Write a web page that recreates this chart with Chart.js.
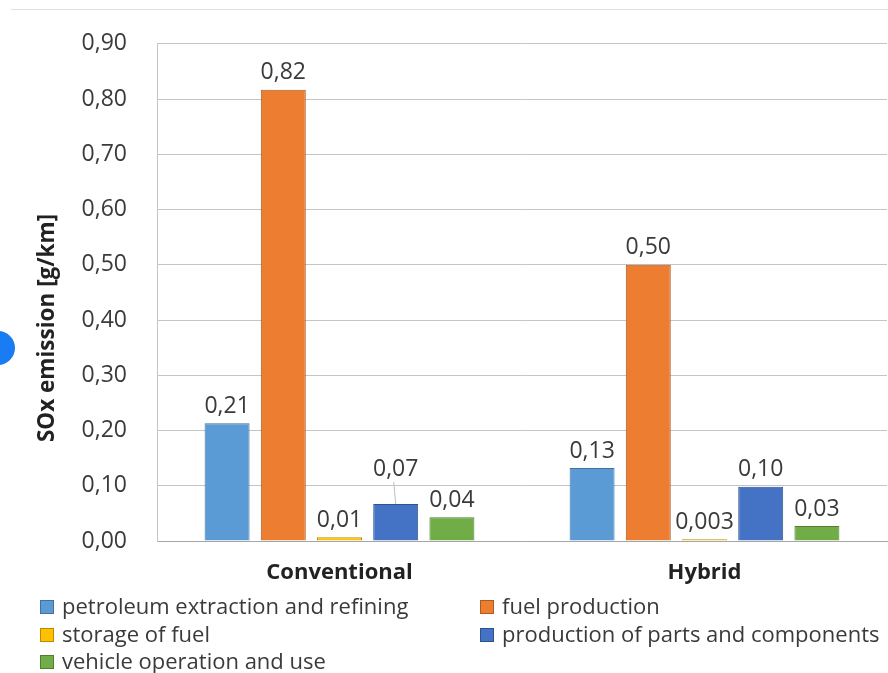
<!DOCTYPE html>
<html>
<head>
<meta charset="utf-8">
<script src="https://cdn.jsdelivr.net/npm/chart.js@4.4.1/dist/chart.umd.min.js"></script>
<style>
  body { margin: 0; background: #fff; }
  #wrap { position: relative; width: 888px; height: 673px; overflow: hidden; }
  #chart { position: absolute; left: 0; top: 0; }
  .topline { position: absolute; left: 11px; top: 9px; width: 877px; height: 1px; background: #e0e0e0; }
  .dot { position: absolute; left: -19px; top: 331px; width: 34px; height: 34px; border-radius: 50%; background: #1a7cf2; }
  .legend { position: absolute; font-family: "Open Sans", sans-serif; font-size: 22px; color: #3a3a3a; }
  .legend div { position: absolute; white-space: nowrap; line-height: 26px; }
  .legend span { display: inline-block; width: 12px; height: 12px; margin-right: 8px; vertical-align: 0px; }
</style>
</head>
<body>
<div id="wrap">
  <div class="topline"></div>
  <canvas id="chart" width="888" height="673"></canvas>
  <div class="dot"></div>
  <div class="legend" id="legend"></div>
</div>
<script>
const categories = ['Conventional', 'Hybrid'];
const seriesNames = [
    'petroleum extraction and refining',
    'fuel production',
    'storage of fuel',
    'production of parts and components',
    'vehicle operation and use'
];
const extraction = [0.213, 0.132];
const fuelProduction = [0.817, 0.500];
const storage = [0.007, 0.003];
const partsProduction = [0.067, 0.098];
const vehicleUse = [0.043, 0.027];
const valueLabels = [
    ['0,21', '0,13'],
    ['0,82', '0,50'],
    ['0,01', '0,003'],
    ['0,07', '0,10'],
    ['0,04', '0,03']
];
const yTicks = [0, 0.1, 0.2, 0.3, 0.4, 0.5, 0.6, 0.7, 0.8, 0.9];

const colors = ['#5b9bd5', '#ed7d31', '#ffc000', '#4472c4', '#70ad47'];
const borders = ['#41719c', '#ae5a21', '#bc8c00', '#2f528f', '#507e32'];
const FONT = '"Open Sans", sans-serif';
const TEXT = '#3a3a3a';

const seriesData = [extraction, fuelProduction, storage, partsProduction, vehicleUse];

// label for 0,07 sits higher with a leader line
const labelLift = { '3-0': 18 };

const valueLabelPlugin = {
    id: 'valueLabels',
    afterDatasetsDraw(chart) {
        const ctx = chart.ctx;
        ctx.save();
        ctx.font = '23px ' + FONT;
        ctx.fillStyle = TEXT;
        ctx.textAlign = 'center';
        ctx.textBaseline = 'middle';
        chart.data.datasets.forEach((ds, i) => {
            chart.getDatasetMeta(i).data.forEach((bar, j) => {
                const lift = labelLift[i + '-' + j] || 0;
                const y = bar.y - 17 - lift;
                if (lift) {
                    ctx.strokeStyle = '#bfbfbf';
                    ctx.lineWidth = 1;
                    ctx.beginPath();
                    ctx.moveTo(bar.x - 2, y + 13);
                    ctx.lineTo(bar.x, bar.y);
                    ctx.stroke();
                }
                ctx.fillText(valueLabels[i][j], bar.x, y);
            });
        });
        ctx.restore();
    }
};

const yTitlePlugin = {
    id: 'yTitle',
    afterDraw(chart) {
        const ctx = chart.ctx;
        ctx.save();
        ctx.translate(48, 328);
        ctx.rotate(-Math.PI / 2);
        ctx.font = 'bold 22.5px ' + FONT;
        ctx.fillStyle = '#222';
        ctx.textAlign = 'center';
        ctx.textBaseline = 'middle';
        ctx.fillText('SOx emission [g/km]', 0, 0);
        ctx.restore();
    }
};

new Chart(document.getElementById('chart'), {
    type: 'bar',
    data: {
        labels: categories,
        datasets: seriesNames.map((name, i) => ({
            label: name,
            data: seriesData[i],
            backgroundColor: colors[i],
            borderColor: borders[i],
            borderWidth: 1,
            categoryPercentage: 0.77,
            barPercentage: 0.8
        }))
    },
    options: {
        responsive: false,
        animation: false,
        layout: { padding: { top: 43, right: 1, left: 0, bottom: 0 } },
        plugins: {
            legend: { display: false },
            tooltip: { enabled: false }
        },
        scales: {
            x: {
                grid: { display: false, drawTicks: false },
                border: { color: '#a6a6a6' },
                ticks: { font: { family: FONT, size: 22, weight: 'bold' }, color: '#222', padding: 19 },
                afterFit(s) { s.height = 132; }
            },
            y: {
                min: 0,
                max: 0.9,
                afterBuildTicks(s) { s.ticks = yTicks.map(v => ({ value: v })); },
                grid: { color: '#c4c4c4', drawTicks: false },
                border: { color: '#c4c4c4' },
                ticks: {
                    font: { family: FONT, size: 23 },
                    color: TEXT,
                    padding: 30,
                    callback: v => v.toFixed(2).replace('.', ',')
                },
                afterFit(s) { s.width = 157; }
            }
        }
    },
    plugins: [valueLabelPlugin, yTitlePlugin]
});

// legend in two columns, like the spreadsheet original
const legendPos = [[40, 592], [480, 592], [40, 620], [480, 620], [40, 647]];
const legend = document.getElementById('legend');
seriesNames.forEach((name, i) => {
    const d = document.createElement('div');
    d.style.left = legendPos[i][0] + 'px';
    d.style.top = legendPos[i][1] + 'px';
    d.innerHTML = '<span style="background:' + colors[i] + ';border:1px solid ' + borders[i] + '"></span>' + name;
    legend.appendChild(d);
});
</script>
</body>
</html>
